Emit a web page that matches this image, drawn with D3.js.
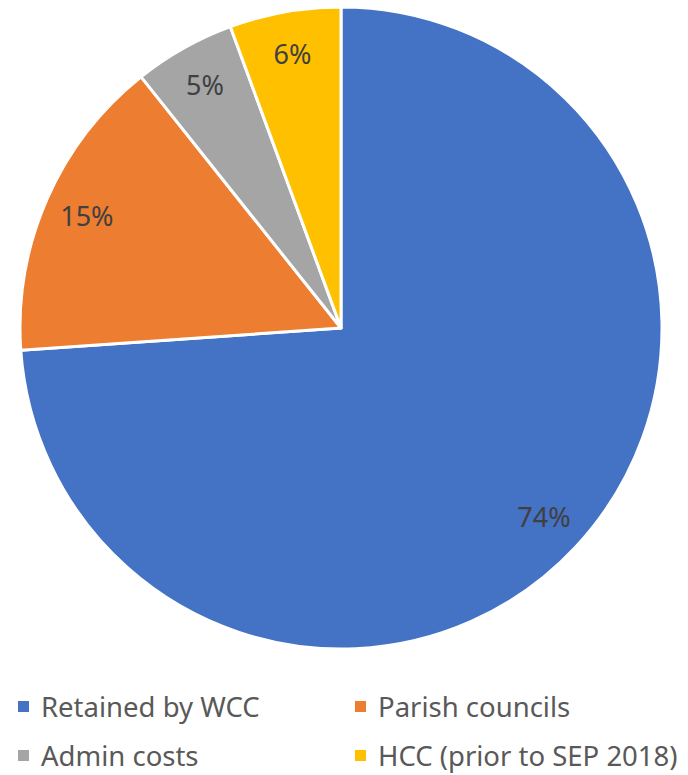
<!DOCTYPE html>
<html>
<head>
<meta charset="utf-8">
<script src="https://cdn.jsdelivr.net/npm/d3@7"></script>
<style>
  body { margin: 0; background: #fff; }
  text { font-family: "Noto Sans", "Open Sans", sans-serif; }
</style>
</head>
<body>
<div id="chart"></div>
<script>
// data
const categories = ["Retained by WCC", "Parish councils", "Admin costs", "HCC (prior to SEP 2018)"];
const values = [73.9, 15.4, 5.1, 5.6];
const colors = ["#4472C4", "#ED7D31", "#A5A5A5", "#FFC000"];

const width = 688, height = 775;
const cx = 341, cy = 328;
const radius = 321;

const data = categories.map((c, i) => ({ name: c, value: values[i], color: colors[i] }));
const total = d3.sum(values);

const svg = d3.select("#chart")
  .append("svg")
  .attr("width", width)
  .attr("height", height);

const pie = d3.pie()
  .sort(null)
  .value(d => d.value);

const arc = d3.arc()
  .innerRadius(0)
  .outerRadius(radius);

const labelArc = d3.arc()
  .innerRadius(radius * 0.865)
  .outerRadius(radius * 0.865);

const arcs = pie(data);

const g = svg.append("g")
  .attr("transform", `translate(${cx},${cy})`);

g.append("g")
  .attr("stroke", "white")
  .attr("stroke-width", 3)
  .attr("stroke-linejoin", "round")
  .selectAll("path")
  .data(arcs)
  .join("path")
  .attr("fill", d => d.data.color)
  .attr("d", arc);

// percentage labels
g.append("g")
  .attr("text-anchor", "middle")
  .selectAll("text")
  .data(arcs)
  .join("text")
  .attr("transform", d => `translate(${labelArc.centroid(d)})`)
  .attr("dy", "0.35em")
  .attr("fill", "#404040")
  .attr("font-size", 27)
  .text(d => Math.round(d.data.value / total * 100) + "%");

// legend, 2 columns
const legendX = d3.scaleOrdinal().domain([0, 1]).range([18, 355]);
const legendY = d3.scaleOrdinal().domain([0, 1]).range([707, 756]);

const legend = svg.append("g")
  .selectAll("g")
  .data(data)
  .join("g")
  .attr("transform", (d, i) => `translate(${legendX(i % 2)},${legendY(Math.floor(i / 2))})`);

legend.append("rect")
  .attr("x", 0)
  .attr("y", -6)
  .attr("width", 11)
  .attr("height", 11)
  .attr("fill", d => d.color);

legend.append("text")
  .attr("x", 23)
  .attr("dy", "0.35em")
  .attr("fill", "#595959")
  .attr("font-size", 27.5)
  .text(d => d.name);
</script>
</body>
</html>
